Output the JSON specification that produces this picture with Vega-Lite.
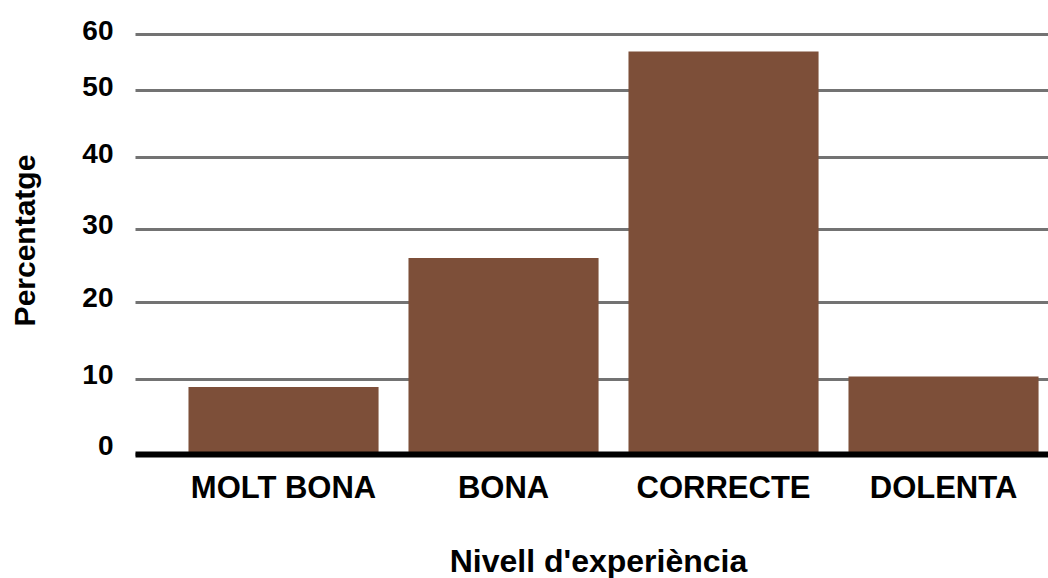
{
  "$schema": "https://vega.github.io/schema/vega-lite/v6.json",
  "autosize": "none",
  "padding": {"left": 135, "top": 34, "right": 0, "bottom": 124},
  "width": 913,
  "height": 420,
  "background": "white",
  "config": {"view": {"stroke": null}, "font": "Liberation Sans"},
  "data": {"values": [
    {"nivell": "MOLT BONA", "percentatge": 8.9},
    {"nivell": "BONA", "percentatge": 26.0},
    {"nivell": "CORRECTE", "percentatge": 56.9},
    {"nivell": "DOLENTA", "percentatge": 10.3}
  ]},
  "mark": {"type": "bar", "color": "#7d4f39"},
  "encoding": {
    "x": {
      "field": "nivell",
      "type": "nominal",
      "sort": null,
      "scale": {"paddingInner": 0.136, "paddingOuter": 0.143, "align": 0.85},
      "axis": {
        "title": "Nivell d'experiència",
        "labelAngle": 0,
        "labelFont": "Liberation Sans",
        "labelFontSize": 31,
        "labelFontWeight": "bold",
        "labelColor": "black",
        "labelPadding": 19,
        "labelLimit": 400,
        "labelOverlap": false,
        "ticks": false,
        "domain": true,
        "domainColor": "black",
        "domainWidth": 6,
        "zindex": 1,
        "titleFont": "Liberation Sans",
        "titleFontSize": 32,
        "titleFontWeight": "bold",
        "titleColor": "black",
        "titleAnchor": "start",
        "titleAlign": "center",
        "titleBaseline": "alphabetic",
        "titleX": 463,
        "titleY": 117
      }
    },
    "y": {
      "field": "percentatge",
      "type": "quantitative",
      "scale": {
        "type": "linear",
        "domain": [0, 10, 20, 30, 40, 50, 60],
        "range": [420, 344.7, 267.7, 194.7, 123.3, 56.3, 0],
        "nice": false
      },
      "axis": {
        "title": "Percentatge",
        "values": [0, 10, 20, 30, 40, 50, 60],
        "grid": true,
        "gridColor": "#737373",
        "gridWidth": 3,
        "gridOpacity": 1,
        "domain": false,
        "ticks": false,
        "labelFont": "Liberation Sans",
        "labelFontSize": 28,
        "labelFontWeight": "bold",
        "labelColor": "black",
        "labelPadding": 22,
        "labelOffset": {"condition": {"test": "datum.value == 0", "value": -8}, "value": -3},
        "zindex": 0,
        "titleFont": "Liberation Sans",
        "titleFontSize": 30,
        "titleFontWeight": "bold",
        "titleColor": "black",
        "titleAngle": -90,
        "titleAnchor": "start",
        "titleAlign": "center",
        "titleBaseline": "alphabetic",
        "titleX": -101,
        "titleY": 206
      }
    }
  }
}
